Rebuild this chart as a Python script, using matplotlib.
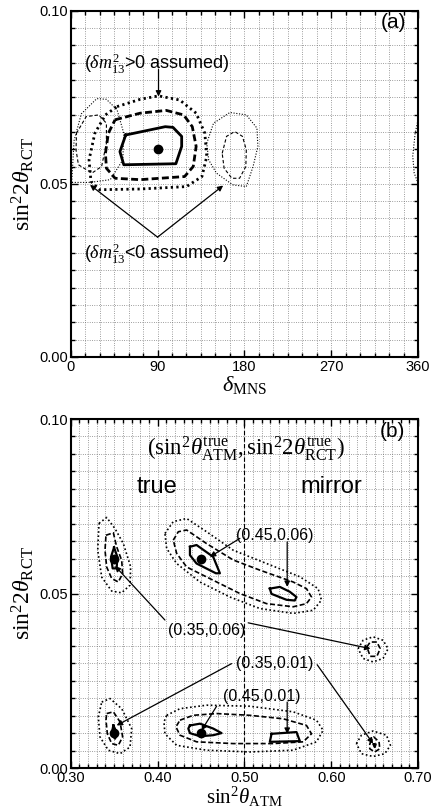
import numpy as np
import matplotlib
matplotlib.use("Agg")
import matplotlib.pyplot as plt
from matplotlib.ticker import MultipleLocator

plt.rcParams['font.family'] = ['Liberation Sans', 'DejaVu Sans']
plt.rcParams['mathtext.fontset'] = 'custom'
plt.rcParams['mathtext.rm'] = 'Liberation Serif'
plt.rcParams['mathtext.it'] = 'Liberation Serif:italic'
plt.rcParams['mathtext.bf'] = 'Liberation Serif:bold'

# ---------------- panel (a): delta_MNS vs sin^2 2theta_RCT ----------------
a_best = (90, 0.06)
a_solid_x = [57, 98, 106, 115, 115, 109, 55, 51, 57]
a_solid_y = [0.0641, 0.0665, 0.0663, 0.0637, 0.0608, 0.0558, 0.0555, 0.0593, 0.0641]
a_dash_x = [46, 72, 99, 117, 126, 130, 127, 118, 72, 46, 37, 36, 39, 46]
a_dash_y = [0.0685, 0.0704, 0.0712, 0.0699, 0.0665, 0.0608, 0.0550, 0.0521,
            0.0512, 0.0516, 0.0545, 0.0588, 0.0646, 0.0685]
a_dot_x = [48, 72, 91, 113, 130, 139, 141, 136, 120, 72, 30, 21, 19, 25, 36, 48]
a_dot_y = [0.0723, 0.0744, 0.0754, 0.0742, 0.0704, 0.0646, 0.0579, 0.0521,
           0.0492, 0.0485, 0.0483, 0.0507, 0.0569, 0.0646, 0.0699, 0.0723]
# delta m^2 < 0 contours (thin)
a_ndashL_x = [6, 16, 29, 37, 37, 32, 22, 8, 5.5, 6]
a_ndashL_y = [0.0646, 0.0694, 0.0699, 0.0675, 0.0617, 0.0550, 0.0531, 0.0555, 0.0598, 0.0646]
a_ndashR_x = [157, 161.5, 170, 178, 182, 181.5, 175, 167, 159, 157]
a_ndashR_y = [0.0588, 0.0637, 0.0651, 0.0637, 0.0598, 0.0550, 0.0516, 0.0516, 0.0545, 0.0588]
a_ndotL_x = [1, 3.5, 11, 27, 37, 48, 55, 54, 41, 20, 1]
a_ndotL_y = [0.0504, 0.0625, 0.0702, 0.0746, 0.0744, 0.0714, 0.0646, 0.0569, 0.0512, 0.0504, 0.0504]
a_ndotR_x = [141, 148, 165, 182, 193, 194, 189, 182, 168, 151, 143, 141]
a_ndotR_y = [0.0617, 0.0675, 0.0706, 0.0699, 0.0661, 0.0608, 0.0550, 0.0492,
             0.0497, 0.0531, 0.0569, 0.0617]
a_ndotE_x = [360, 357, 354.5, 356, 360]
a_ndotE_y = [0.0685, 0.0646, 0.0580, 0.0531, 0.0502]

# ---------------- panel (b): sin^2 theta_ATM vs sin^2 2theta_RCT ----------------
b_best_x = [0.35, 0.45, 0.35, 0.45]
b_best_y = [0.06, 0.06, 0.01, 0.01]

b_solid = [
    ([0.3499, 0.3537, 0.3529, 0.3483, 0.3464, 0.3499],
     [0.0632, 0.0605, 0.0572, 0.0572, 0.0605, 0.0632]),
    ([0.4373, 0.4449, 0.4641, 0.4718, 0.4672, 0.4449, 0.4373, 0.4373],
     [0.0634, 0.0639, 0.0605, 0.0558, 0.0558, 0.0586, 0.0610, 0.0634]),
    ([0.5293, 0.5408, 0.5523, 0.5600, 0.5580, 0.5485, 0.5312, 0.5293],
     [0.0514, 0.0519, 0.0505, 0.0490, 0.0480, 0.0482, 0.0499, 0.0514]),
    ([0.3491, 0.3537, 0.3510, 0.3472, 0.3491],
     [0.0122, 0.0098, 0.0084, 0.0098, 0.0122]),
    ([0.4373, 0.4488, 0.4641, 0.4737, 0.4641, 0.4488, 0.4373, 0.4354, 0.4373],
     [0.0122, 0.0127, 0.0113, 0.0100, 0.0094, 0.0091, 0.0100, 0.0113, 0.0122]),
    ([0.5313, 0.5600, 0.5639, 0.5293, 0.5313],
     [0.0098, 0.0103, 0.0077, 0.0075, 0.0098]),
    ([0.6490, 0.6512, 0.6501, 0.6490],
     [0.0068, 0.0068, 0.0060, 0.0068]),
]
b_dash = [
    ([0.3406, 0.3491, 0.3529, 0.3587, 0.3598, 0.3548, 0.3472, 0.3414, 0.3395, 0.3406],
     [0.0667, 0.0674, 0.0634, 0.0595, 0.0557, 0.0533, 0.0543, 0.0576, 0.0624, 0.0667]),
    ([0.4181, 0.4239, 0.4335, 0.4565, 0.4872, 0.5178, 0.5562, 0.5715, 0.5773, 0.5715,
      0.5562, 0.5255, 0.4948, 0.4641, 0.4335, 0.4220, 0.4181],
     [0.0653, 0.0677, 0.0682, 0.0643, 0.0596, 0.0567, 0.0533, 0.0514, 0.0490, 0.0471,
      0.0462, 0.0471, 0.0500, 0.0538, 0.0576, 0.0615, 0.0653]),
    ([0.6411, 0.6449, 0.6526, 0.6564, 0.6526, 0.6449, 0.6411],
     [0.0347, 0.0361, 0.0361, 0.0342, 0.0320, 0.0320, 0.0347]),
    ([0.3414, 0.3491, 0.3568, 0.3598, 0.3548, 0.3472, 0.3422, 0.3406, 0.3414],
     [0.0156, 0.0161, 0.0132, 0.0089, 0.0065, 0.0070, 0.0098, 0.0137, 0.0156]),
    ([0.4258, 0.4411, 0.4680, 0.5063, 0.5447, 0.5715, 0.5773, 0.5677, 0.5332, 0.4872,
      0.4450, 0.4258, 0.4212, 0.4258],
     [0.0137, 0.0151, 0.0156, 0.0151, 0.0141, 0.0122, 0.0098, 0.0075, 0.0070, 0.0070,
      0.0075, 0.0094, 0.0118, 0.0137]),
    ([0.6444, 0.6490, 0.6551, 0.6559, 0.6501, 0.6444, 0.6444],
     [0.0070, 0.0089, 0.0075, 0.0055, 0.0046, 0.0055, 0.0070]),
]
b_dot = [
    ([0.3326, 0.3414, 0.3510, 0.3606, 0.3690, 0.3683, 0.3587, 0.3472, 0.3357, 0.3311, 0.3326],
     [0.0701, 0.0718, 0.0686, 0.0643, 0.0577, 0.0524, 0.0502, 0.0507, 0.0547, 0.0624, 0.0701]),
    ([0.4085, 0.4181, 0.4335, 0.4565, 0.4872, 0.5255, 0.5639, 0.5849, 0.5888, 0.5792,
      0.5562, 0.5178, 0.4833, 0.4488, 0.4220, 0.4105, 0.4085],
     [0.0672, 0.0706, 0.0715, 0.0677, 0.0624, 0.0586, 0.0548, 0.0514, 0.0481, 0.0452,
      0.0443, 0.0457, 0.0490, 0.0533, 0.0586, 0.0629, 0.0672]),
    ([0.6310, 0.6367, 0.6482, 0.6597, 0.6655, 0.6597, 0.6482, 0.6367, 0.6310],
     [0.0342, 0.0366, 0.0376, 0.0366, 0.0342, 0.0314, 0.0304, 0.0314, 0.0342]),
    ([0.3357, 0.3453, 0.3587, 0.3702, 0.3683, 0.3568, 0.3433, 0.3337, 0.3318, 0.3357],
     [0.0189, 0.0199, 0.0170, 0.0113, 0.0060, 0.0041, 0.0051, 0.0089, 0.0146, 0.0189]),
    ([0.4105, 0.4258, 0.4565, 0.5063, 0.5562, 0.5830, 0.5907, 0.5830, 0.5562, 0.5063,
      0.4565, 0.4220, 0.4085, 0.4074, 0.4105],
     [0.0151, 0.0170, 0.0180, 0.0177, 0.0161, 0.0137, 0.0108, 0.0075, 0.0051, 0.0046,
      0.0051, 0.0065, 0.0098, 0.0132, 0.0151]),
    ([0.6290, 0.6348, 0.6482, 0.6636, 0.6682, 0.6617, 0.6482, 0.6348, 0.6290],
     [0.0070, 0.0094, 0.0106, 0.0094, 0.0065, 0.0041, 0.0033, 0.0041, 0.0070]),
]

fig = plt.figure(figsize=(4.32, 8.08), dpi=100)
ax1 = fig.add_axes([0.1637, 0.5582, 0.804, 0.4286])
ax2 = fig.add_axes([0.1637, 0.0495, 0.804, 0.4319])

def frame(ax, xmaj, xmin, xfmt):
    ax.xaxis.set_major_locator(MultipleLocator(xmaj))
    ax.xaxis.set_minor_locator(MultipleLocator(xmin))
    ax.yaxis.set_major_locator(MultipleLocator(0.05))
    ax.yaxis.set_minor_locator(MultipleLocator(0.005))
    ax.xaxis.set_major_formatter(xfmt)
    ax.yaxis.set_major_formatter(lambda v, p: f"{v:.2f}")
    ax.grid(True, which='both', color='0.4', lw=0.55, ls=(0, (1, 2)))
    ax.tick_params(which='both', direction='in', top=True, right=True,
                   labelsize=10.5, width=1, pad=2)
    ax.tick_params(which='major', length=5)
    ax.tick_params(which='minor', length=3)
    for s in ax.spines.values():
        s.set_linewidth(1.5)
    ax.set_axisbelow(True)

arrow = dict(arrowstyle='-|>', color='k', lw=0.9, mutation_scale=8, shrinkA=0, shrinkB=0)

# ---- panel (a)
ax1.plot(a_solid_x, a_solid_y, 'k-', lw=2)
ax1.plot(a_dash_x, a_dash_y, color='k', lw=2, ls=(0, (2.5, 1.2)))
ax1.plot(a_dot_x, a_dot_y, color='k', lw=2, ls=(0, (0.8, 1.2)))
for xs, ys in [(a_ndashL_x, a_ndashL_y), (a_ndashR_x, a_ndashR_y)]:
    ax1.plot(xs, ys, color='k', lw=0.8, ls=(0, (3, 2)))
for xs, ys in [(a_ndotL_x, a_ndotL_y), (a_ndotR_x, a_ndotR_y), (a_ndotE_x, a_ndotE_y)]:
    ax1.plot(xs, ys, color='k', lw=0.8, ls=(0, (1, 1.5)))
ax1.plot(*a_best, 'ko', ms=6)
ax1.set_xlim(0, 360)
ax1.set_ylim(0, 0.1)
frame(ax1, 90, 15, lambda v, p: f"{v:.0f}")
ax1.set_xlabel(r'$\delta_{\mathrm{MNS}}$', fontsize=16, labelpad=0)
ax1.set_ylabel(r'$\mathrm{sin}^2 2\theta_{\mathrm{RCT}}$', fontsize=17, labelpad=2)
ax1.text(348, 0.0965, '(a)', fontsize=15, ha='right', va='center')
ax1.text(89, 0.0848, r'($\delta m^2_{13}$>0 assumed)', fontsize=13, ha='center', va='center')
ax1.annotate('', xy=(91, 0.0752), xytext=(91, 0.083), arrowprops=arrow)
ax1.text(89, 0.0298, r'($\delta m^2_{13}$<0 assumed)', fontsize=13, ha='center', va='center')
ax1.annotate('', xy=(20, 0.0497), xytext=(90, 0.0346), arrowprops=arrow)
ax1.annotate('', xy=(158, 0.0495), xytext=(90, 0.0346), arrowprops=arrow)

# ---- panel (b)
for xs, ys in b_solid:
    ax2.plot(xs, ys, 'k-', lw=1.6)
for xs, ys in b_dash:
    ax2.plot(xs, ys, color='k', lw=1.2, ls=(0, (3, 1.5)))
for xs, ys in b_dot:
    ax2.plot(xs, ys, color='k', lw=1.2, ls=(0, (1, 1.5)))
ax2.plot(b_best_x, b_best_y, 'ko', ms=6, ls='none')
ax2.axvline(0.5, color='k', lw=0.8, ls=(0, (4, 2)))
ax2.set_xlim(0.3, 0.7)
ax2.set_ylim(0, 0.1)
frame(ax2, 0.1, 0.01, lambda v, p: f"{v:.2f}")
ax2.set_xlabel(r'$\mathrm{sin}^2\theta_{\mathrm{ATM}}$', fontsize=15, labelpad=0)
ax2.set_ylabel(r'$\mathrm{sin}^2 2\theta_{\mathrm{RCT}}$', fontsize=17, labelpad=2)
ax2.text(0.685, 0.0965, '(b)', fontsize=15, ha='right', va='center')
ax2.text(0.502, 0.0915,
         r'$(\mathrm{sin}^2\theta^{\mathrm{true}}_{\mathrm{ATM}},\mathrm{sin}^2 2\theta^{\mathrm{true}}_{\mathrm{RCT}})$',
         fontsize=16.5, ha='center', va='center')
ax2.text(0.399, 0.0806, 'true', fontsize=17, ha='center', va='center')
ax2.text(0.600, 0.0806, 'mirror', fontsize=17, ha='center', va='center')

lab = dict(fontsize=11.5, ha='center', va='center')
ax2.text(0.535, 0.0667, '(0.45,0.06)', **lab)
ax2.annotate('', xy=(0.4603, 0.0605), xytext=(0.4948, 0.0658), arrowprops=arrow)
ax2.annotate('', xy=(0.5493, 0.0519), xytext=(0.5493, 0.0648), arrowprops=arrow)
ax2.text(0.4565, 0.0395, '(0.35,0.06)', **lab)
ax2.annotate('', xy=(0.3510, 0.0579), xytext=(0.4085, 0.0424), arrowprops=arrow)
ax2.annotate('', xy=(0.6452, 0.0342), xytext=(0.5044, 0.0416), arrowprops=arrow)
ax2.text(0.5351, 0.0299, '(0.35,0.01)', **lab)
ax2.annotate('', xy=(0.3529, 0.0122), xytext=(0.4852, 0.0299), arrowprops=arrow)
ax2.annotate('', xy=(0.6482, 0.0070), xytext=(0.5838, 0.0296), arrowprops=arrow)
ax2.text(0.5198, 0.0204, '(0.45,0.01)', **lab)
ax2.annotate('', xy=(0.4507, 0.0108), xytext=(0.4680, 0.0177), arrowprops=arrow)
ax2.annotate('', xy=(0.5493, 0.0098), xytext=(0.5493, 0.0189), arrowprops=arrow)

fig.savefig('out.png', dpi=100)
